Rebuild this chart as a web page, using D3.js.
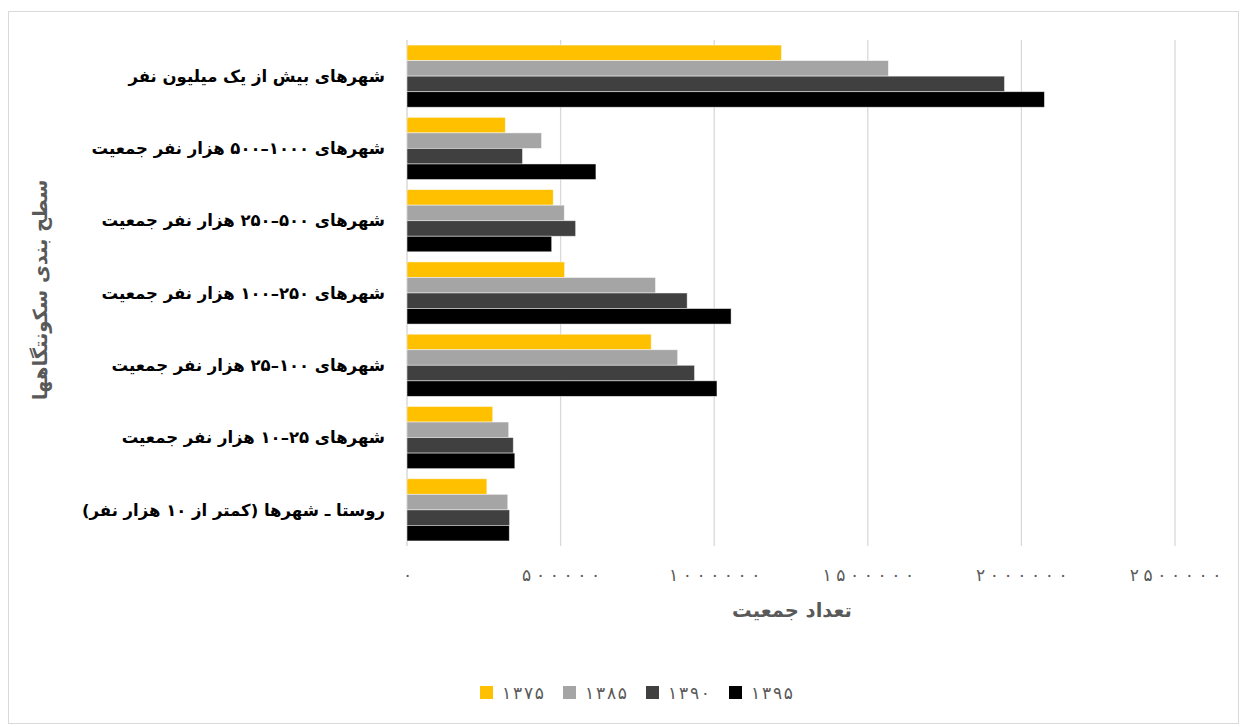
<!DOCTYPE html>
<html><head><meta charset="utf-8">
<script src="https://cdn.jsdelivr.net/npm/d3@7/dist/d3.min.js"></script>
<style>body{margin:0;background:#fff}svg{display:block}text{font-family:"DejaVu Sans",sans-serif}</style>
</head><body><svg id="c" width="1246" height="727"></svg>
<script>
const categories = [
  "شهرهای بیش از یک میلیون نفر",
  "شهرهای ۱۰۰۰–۵۰۰ هزار نفر جمعیت",
  "شهرهای ۵۰۰–۲۵۰ هزار نفر جمعیت",
  "شهرهای ۲۵۰–۱۰۰ هزار نفر جمعیت",
  "شهرهای ۱۰۰–۲۵ هزار نفر جمعیت",
  "شهرهای  ۲۵–۱۰ هزار نفر جمعیت",
  "روستا ـ شهرها (کمتر از ۱۰ هزار نفر)"
];
const seriesNames = ["۱۳۷۵", "۱۳۸۵", "۱۳۹۰", "۱۳۹۵"];
const s1375 = [1219000, 320000, 476000, 513000, 795000, 279000, 260000];
const s1385 = [1567000, 438000, 512000, 809000, 881000, 331000, 328000];
const s1390 = [1945000, 376000, 549000, 912000, 936000, 346000, 334000];
const s1395 = [2075000, 615000, 471000, 1055000, 1009000, 351000, 333000];
const tickValues = [0, 500000, 1000000, 1500000, 2000000, 2500000];
const tickLabels = ["۰", "۵۰۰۰۰۰", "۱۰۰۰۰۰۰", "۱۵۰۰۰۰۰", "۲۰۰۰۰۰۰", "۲۵۰۰۰۰۰"];
const colors = ["#FFC000", "#A5A5A5", "#404040", "#000000"];
const series = [s1375, s1385, s1390, s1395];

const svg = d3.select("#c");
svg.append("rect").attr("x", 8.5).attr("y", 11.5).attr("width", 1230).attr("height", 712)
  .attr("fill", "#fff").attr("stroke", "#D9D9D9").attr("stroke-width", 1);

const x0 = 407, x1 = 1175, yTop = 40, yBot = 546;
const x = d3.scaleLinear().domain([0, 2500000]).range([x0, x1]);
const y = d3.scaleBand().domain(d3.range(categories.length)).range([yTop, yBot]).paddingInner(0.14).paddingOuter(0.07);
const yi = d3.scaleBand().domain(d3.range(series.length)).range([0, y.bandwidth()]);

// grid
const g = svg.append("g");
g.selectAll("line.grid").data(tickValues).join("line")
  .attr("x1", d => x(d)).attr("x2", d => x(d)).attr("y1", yTop).attr("y2", yBot)
  .attr("stroke", "#D9D9D9").attr("stroke-width", d => d === 0 ? 1.5 : 1.3);

// bars
series.forEach((s, si) => {
  g.selectAll("rect.s" + si).data(s).join("rect")
    .attr("x", x(0)).attr("y", (d, i) => y(i) + yi(si))
    .attr("width", d => x(d) - x(0)).attr("height", yi.bandwidth())
    .attr("fill", colors[si]).attr("stroke", "#fff").attr("stroke-opacity", 0.6).attr("stroke-width", 0.8);
});

// x axis labels
const xa = d3.axisBottom(x).tickValues(tickValues).tickFormat((d, i) => tickLabels[i]).tickSize(0).tickPadding(0);
const ax = svg.append("g").attr("transform", `translate(0,${yBot + 23})`).call(xa);
ax.select(".domain").remove();
ax.selectAll("text").attr("fill", "#595959").attr("font-size", 17)
  .each(function (d, i) {
    const n = tickLabels[i].length;
    if (n > 1) d3.select(this).attr("textLength", (n - 1) * 13.6 + 10).attr("lengthAdjust", "spacing");
  })
  .attr("dy", "0.35em").attr("y", 6);

// category labels
svg.append("g").selectAll("text").data(categories).join("text")
  .attr("x", 385).attr("y", (d, i) => y(i) + y.bandwidth() / 2)
  .attr("dy", "0.35em").attr("direction", "rtl").attr("text-anchor", "start")
  .attr("font-size", 16.5).attr("font-weight", "bold").attr("fill", "#000").text(d => d);

// axis titles
svg.append("text").attr("x", 792).attr("y", 617).attr("text-anchor", "middle").attr("direction", "rtl")
  .attr("font-size", 19.5).attr("font-weight", "bold").attr("fill", "#595959").text("تعداد جمعیت");
svg.append("text").attr("transform", "translate(40,290) rotate(-90)").attr("text-anchor", "middle")
  .attr("direction", "rtl").attr("dy", "0.35em")
  .attr("font-size", 19.5).attr("font-weight", "bold").attr("fill", "#595959").text("سطح بندی سکونتگاهها");

// legend
const legX = [480, 563, 646, 729];
const lg = svg.append("g").selectAll("g").data(seriesNames).join("g")
  .attr("transform", (d, i) => `translate(${legX[i]},686)`);
lg.append("rect").attr("width", 13).attr("height", 13).attr("fill", (d, i) => colors[i]);
lg.append("text").attr("x", 22).attr("y", 7).attr("dy", "0.35em").attr("font-size", 17)
  .attr("textLength", 42).attr("lengthAdjust", "spacing").attr("fill", "#595959").text(d => d);
</script></body></html>
